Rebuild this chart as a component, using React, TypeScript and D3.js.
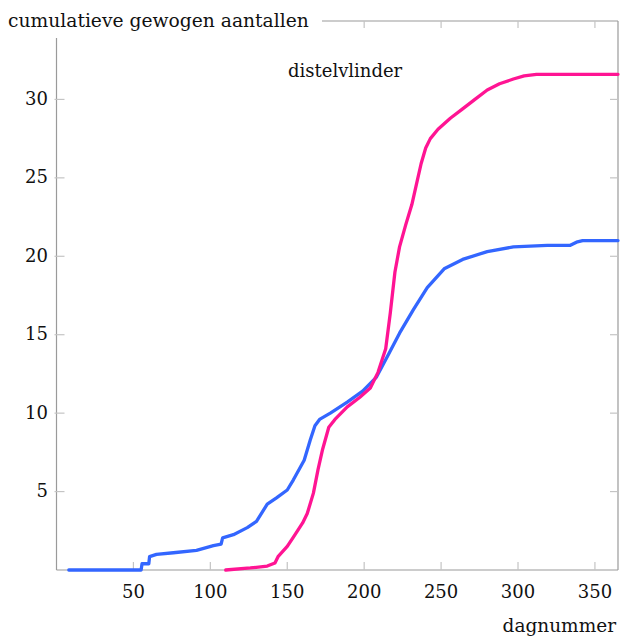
import React from "react";
import * as d3 from "d3";

const blueDays = [8, 55, 55.6, 60, 60.5, 65, 76, 91, 102, 107, 108, 115, 124, 130, 137, 143, 150, 154, 161, 165, 168, 171, 178, 189, 199, 208, 215, 223, 232, 241, 252, 264, 280, 297, 319, 334, 338, 342, 365];
const blueValues = [0, 0, 0.4, 0.4, 0.85, 1.0, 1.1, 1.25, 1.55, 1.65, 2.05, 2.25, 2.7, 3.1, 4.2, 4.6, 5.1, 5.75, 7.0, 8.3, 9.2, 9.6, 10.0, 10.7, 11.4, 12.3, 13.6, 15.1, 16.6, 18.0, 19.2, 19.8, 20.3, 20.6, 20.7, 20.7, 20.9, 21.0, 21.0];

const pinkDays = [110, 126, 137, 142, 144, 150, 154, 160, 163, 167, 170, 173, 177, 181, 189, 197, 204, 209, 214, 217, 220, 223, 227, 231, 234, 237, 240, 243, 248, 256, 264, 272, 280, 288, 297, 304, 312, 365];
const pinkValues = [0, 0.13, 0.25, 0.45, 0.85, 1.5, 2.1, 3.0, 3.6, 4.9, 6.4, 7.7, 9.1, 9.6, 10.4, 11.0, 11.6, 12.6, 14.1, 16.4, 19.0, 20.6, 22.0, 23.3, 24.6, 25.9, 26.9, 27.5, 28.1, 28.8, 29.4, 30.0, 30.6, 31.0, 31.3, 31.5, 31.6, 31.6];

const xTicks = [50, 100, 150, 200, 250, 300, 350];
const xTopTicks = [200, 250, 300, 350];
const yTicks = [5, 10, 15, 20, 25, 30];

const yTitle = "cumulatieve gewogen aantallen";
const xTitle = "dagnummer";
const chartTitle = "distelvlinder";

export default function App() {
  const W = 627, H = 636;
  const x = d3.scaleLinear().domain([0, 365]).range([56.5, 618]);
  const y = d3.scaleLinear().domain([0, 35]).range([570, 21]);
  const line = d3.line<[number, number]>().x(d => x(d[0])).y(d => y(d[1]));
  const blue = blueDays.map((d, i) => [d, blueValues[i]] as [number, number]);
  const pink = pinkDays.map((d, i) => [d, pinkValues[i]] as [number, number]);
  const font = "'DejaVu Serif', serif";
  const axisColor = "#9a9a9a";
  const tickColor = "#c4c4c4";
  const x0 = x(0), x1 = x(365), y0 = y(0), y1 = y(35);
  return (
    <svg width={W} height={H} style={{ position: "absolute", left: 0, top: 0, background: "#fff" }}>
      {/* frame */}
      <line x1={x0} x2={x0} y1={38} y2={y0} stroke={axisColor} strokeWidth={1.2} />
      <line x1={x0} x2={x1} y1={y0} y2={y0} stroke={axisColor} strokeWidth={1.2} />
      <line x1={x1} x2={x1} y1={y1} y2={y0} stroke={axisColor} strokeWidth={1.2} />
      <line x1={322} x2={x1} y1={y1} y2={y1} stroke={axisColor} strokeWidth={1.2} />
      {/* ticks */}
      {xTicks.map(t => (
        <line key={"xb" + t} x1={x(t)} x2={x(t)} y1={y0} y2={y0 - 8} stroke={tickColor} strokeWidth={1.2} />
      ))}
      {xTopTicks.map(t => (
        <line key={"xt" + t} x1={x(t)} x2={x(t)} y1={y1} y2={y1 + 7} stroke={tickColor} strokeWidth={1.2} />
      ))}
      {yTicks.map(t => (
        <line key={"yl" + t} x1={x0 - 2} x2={x0 + 8} y1={y(t)} y2={y(t)} stroke={tickColor} strokeWidth={1.2} />
      ))}
      {yTicks.map(t => (
        <line key={"yr" + t} x1={x1} x2={x1 - 8} y1={y(t)} y2={y(t)} stroke={tickColor} strokeWidth={1.2} />
      ))}
      {/* tick labels */}
      {xTicks.map(t => (
        <text key={"xl" + t} x={x(t)} y={598} textAnchor="middle" fontFamily={font} fontSize={18} fill="#111">{t}</text>
      ))}
      {yTicks.map(t => (
        <text key={"ylab" + t} x={48} y={y(t)} dy="0.3em" textAnchor="end" fontFamily={font} fontSize={18} fill="#111">{t}</text>
      ))}
      {/* titles */}
      <text x={8} y={27} fontFamily={font} fontSize={18.7} fill="#111">{yTitle}</text>
      <text x={616} y={632} textAnchor="end" fontFamily={font} fontSize={18.5} fill="#111">{xTitle}</text>
      <text x={288} y={77} fontFamily={font} fontSize={18} fill="#111">{chartTitle}</text>
      {/* series */}
      <path d={line(blue) || ""} fill="none" stroke="#3366ff" strokeWidth={3.3} strokeLinejoin="round" strokeLinecap="round" />
      <path d={line(pink) || ""} fill="none" stroke="#ff1493" strokeWidth={3.3} strokeLinejoin="round" strokeLinecap="round" />
    </svg>
  );
}
